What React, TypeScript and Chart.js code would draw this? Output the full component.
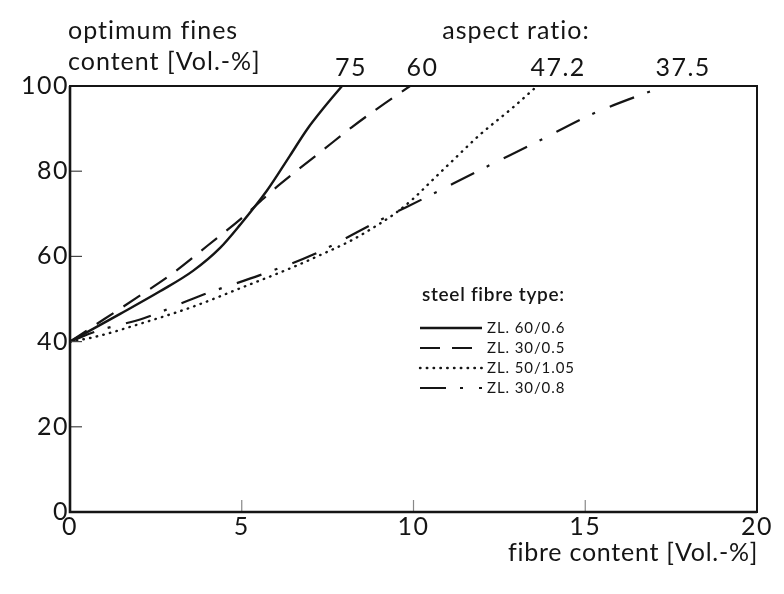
import React, { useEffect, useRef } from 'react';
import { Chart, registerables } from 'chart.js';

Chart.register(...registerables);

// ---- data ----
const seriesLabels = ['ZL. 60/0.6', 'ZL. 30/0.5', 'ZL. 50/1.05', 'ZL. 30/0.8'];

const solidX = [0, 1.46, 2.62, 3.58, 4.37, 4.95, 5.73, 6.4, 6.9, 7.4, 7.92];
const solidY = [40, 46.5, 51.8, 56.6, 62, 67.4, 75.4, 83.6, 89.8, 95, 100];

const dashedX = [0, 1, 2, 3, 4, 5, 5.9, 6.6, 7.4, 8.2, 9.0, 9.9];
const dashedY = [40, 45.3, 50.6, 56.1, 62.5, 69, 75.5, 80.1, 85.2, 90.3, 95, 100];

const dottedX = [0, 0.67, 2.13, 3.58, 5.04, 6.5, 7.28, 8.2, 9.0, 9.5, 10, 10.5, 11, 11.94, 12.9, 13.6];
const dottedY = [40, 41, 44.4, 48.2, 52.8, 57.5, 60.3, 63.8, 67.6, 70.3, 73.6, 77.5, 81.4, 88.6, 95, 100];

const dashDotX = [0, 0.8, 2.15, 3.87, 5.53, 7.1, 9.02, 10.4, 11.94, 13.6, 15.2, 17.3];
const dashDotY = [40, 42.5, 45.5, 51, 55.6, 60.5, 68.5, 74, 80.3, 86.9, 93.4, 100];

const xTicks = [0, 5, 10, 15, 20];
const yTicks = [0, 20, 40, 60, 80, 100];

const aspectLabels = ['75', '60', '47.2', '37.5'];
const aspectLabelX = [8.15, 10.23, 14.18, 17.82];

const yTitleLines = ['optimum fines', 'content [Vol.-%]'];
const topTitle = 'aspect ratio:';
const xTitle = 'fibre content [Vol.-%]';
const legendTitle = 'steel fibre type:';

const FONT = 'Lato, "DejaVu Sans", sans-serif';
const INK = '#151515';

const dashes: number[][] = [[], [20, 12], [0.5, 6.3], [26, 14, 3, 16]];
const caps = ['butt', 'butt', 'round', 'butt'];
const widths = [2.4, 2.2, 2.4, 2.2];

function pts(xs: number[], ys: number[]) {
  return xs.map((x, i) => ({ x, y: ys[i] }));
}

const spacingPlugin = {
  id: 'spacing',
  beforeDraw(chart: any) {
    (chart.ctx as any).letterSpacing = '1.5px';
  },
};

const decorPlugin = {
  id: 'decor',
  afterDraw(chart: any) {
    const ctx = chart.ctx as CanvasRenderingContext2D & { letterSpacing: string };
    const { left, right, top, bottom } = chart.chartArea;
    const xs = chart.scales.x;
    const ys = chart.scales.y;
    ctx.save();
    // inner ticks
    ctx.strokeStyle = '#888';
    ctx.lineWidth = 1.2;
    xTicks.forEach((v) => {
      const px = xs.getPixelForValue(v);
      ctx.beginPath();
      ctx.moveTo(px, bottom);
      ctx.lineTo(px, bottom - 12);
      ctx.stroke();
    });
    ctx.strokeStyle = '#444';
    yTicks.forEach((v) => {
      const py = ys.getPixelForValue(v);
      ctx.beginPath();
      ctx.moveTo(left, py);
      ctx.lineTo(left + 12, py);
      ctx.stroke();
    });
    // frame
    ctx.strokeStyle = INK;
    ctx.lineWidth = 2;
    ctx.strokeRect(left, top, right - left, bottom - top);
    ctx.lineWidth = 2.6;
    ctx.beginPath();
    ctx.moveTo(left, top);
    ctx.lineTo(left, bottom);
    ctx.lineTo(right, bottom);
    ctx.stroke();

    // titles
    ctx.fillStyle = INK;
    ctx.font = `25px ${FONT}`;
    ctx.letterSpacing = '1px';
    ctx.textBaseline = 'middle';
    ctx.textAlign = 'left';
    ctx.fillText(yTitleLines[0], 68, 31);
    ctx.fillText(yTitleLines[1], 68, 62);
    ctx.textAlign = 'center';
    ctx.fillText(topTitle, 516, 31);
    ctx.letterSpacing = '1.5px';
    aspectLabels.forEach((t, i) => {
      ctx.fillText(t, xs.getPixelForValue(aspectLabelX[i]) + 1, 68);
    });
    ctx.letterSpacing = '0.75px';
    ctx.textAlign = 'left';
    ctx.fillText(xTitle, 508, 553);

    // legend
    ctx.textAlign = 'left';
    ctx.letterSpacing = '0.7px';
    ctx.font = `600 19px ${FONT}`;
    ctx.fillText(legendTitle, 422, 295);
    ctx.font = `15px ${FONT}`;
    ctx.letterSpacing = '0.9px';
    chart.data.datasets.forEach((ds: any, i: number) => {
      const y = 328 + i * 20;
      ctx.save();
      ctx.strokeStyle = ds.borderColor;
      ctx.lineWidth = ds.borderWidth;
      ctx.lineCap = ds.borderCapStyle || 'butt';
      ctx.setLineDash(ds.borderDash || []);
      ctx.beginPath();
      ctx.moveTo(420, y);
      ctx.lineTo(482, y);
      ctx.stroke();
      ctx.restore();
      ctx.fillText(ds.label, 487, y);
    });
    ctx.restore();
  },
};

export default function App() {
  const ref = useRef<HTMLCanvasElement | null>(null);
  useEffect(() => {
    if (!ref.current) return;
    const series = [
      pts(solidX, solidY),
      pts(dashedX, dashedY),
      pts(dottedX, dottedY),
      pts(dashDotX, dashDotY),
    ];
    const chart = new Chart(ref.current, {
      type: 'line',
      data: {
        datasets: series.map((d, i) => ({
          label: seriesLabels[i],
          data: d,
          borderColor: INK,
          borderWidth: widths[i],
          borderDash: dashes[i],
          borderCapStyle: caps[i] as any,
          pointRadius: 0,
          fill: false,
          cubicInterpolationMode: 'monotone' as const,
        })),
      },
      options: {
        animation: false,
        responsive: false,
        devicePixelRatio: 1,
        layout: { padding: { left: 8, top: 86, right: 27, bottom: 0 } },
        plugins: { legend: { display: false }, tooltip: { enabled: false } },
        scales: {
          x: {
            type: 'linear',
            min: 0,
            max: 20,
            afterFit: (s: any) => {
              s.height = 82;
            },
            afterBuildTicks: (s: any) => {
              s.ticks = xTicks.map((v) => ({ value: v }));
            },
            grid: { display: false, drawTicks: false, tickLength: 0 },
            border: { display: false },
            ticks: { color: INK, font: { family: FONT, size: 25 }, padding: 0, maxRotation: 0, autoSkip: false },
          },
          y: {
            type: 'linear',
            min: 0,
            max: 100,
            afterFit: (s: any) => {
              s.width = 62;
            },
            afterBuildTicks: (s: any) => {
              s.ticks = yTicks.map((v) => ({ value: v }));
            },
            grid: { display: false, drawTicks: false, tickLength: 0 },
            border: { display: false },
            ticks: { color: INK, font: { family: FONT, size: 25 }, padding: 1, autoSkip: false },
          },
        },
      },
      plugins: [spacingPlugin, decorPlugin],
    });
    return () => chart.destroy();
  }, []);
  return (
    <div style={{ position: 'absolute', left: 0, top: 0, width: 784, height: 594, background: '#fff' }}>
      <canvas ref={ref} width={784} height={594} style={{ width: 784, height: 594 }} />
    </div>
  );
}
